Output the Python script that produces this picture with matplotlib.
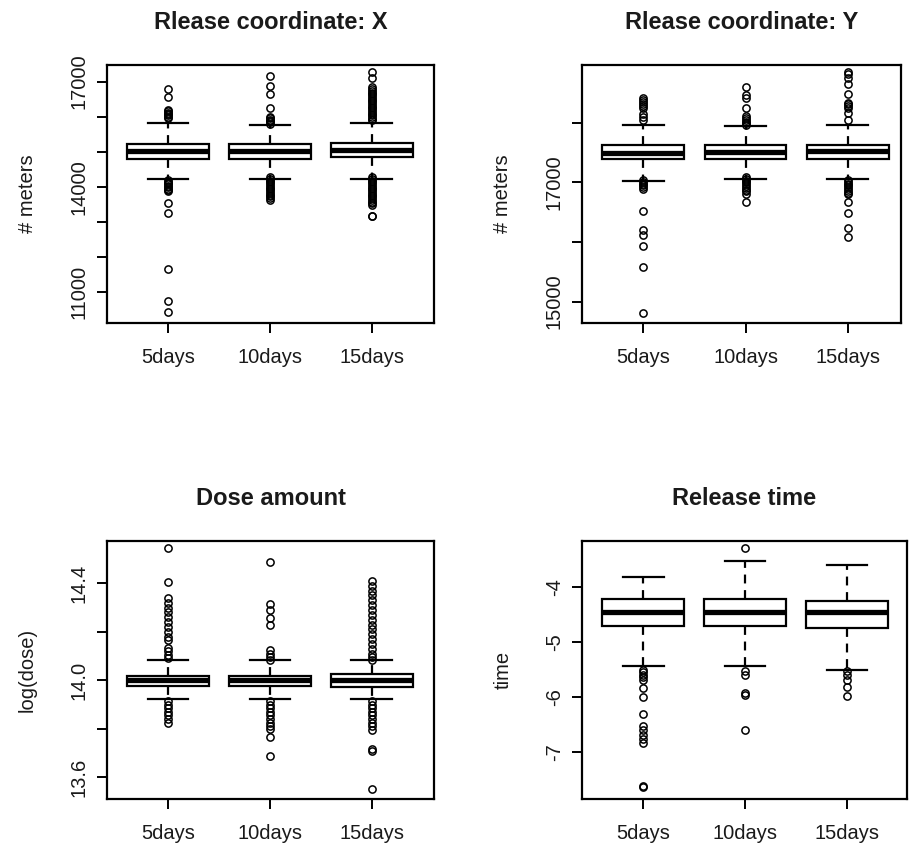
import numpy as np
import matplotlib
matplotlib.use("Agg")
import matplotlib.pyplot as plt

plt.rcParams['font.family'] = ['Liberation Sans', 'DejaVu Sans']

days = ["5days", "10days", "15days"]

### Rlease coordinate: X  (meters)
x_whislo = [14233, 14233, 14233]
x_q1 = [14786, 14786, 14843]
x_med = [15031, 15031, 15050]
x_q3 = [15214, 15214, 15260]
x_whishi = [15822, 15756, 15822]
x_fliers = [
    [16783, 16560, 16190, 16150, 16110, 16080, 16040, 16000, 15960,
     14190, 14150, 14110, 14070, 14030, 13990, 13950, 13910, 13870,
     13530, 13245, 11665, 10752, 10420],
    [17163, 16877, 16640, 16240, 16000, 15960, 15920, 15880, 15840, 15800,
     14280, 14230, 14180, 14130, 14080, 14030, 13980, 13930, 13880, 13830,
     13780, 13730, 13680, 13630],
    [17285, 17097, 16840, 16790, 16740, 16690, 16640, 16590, 16540, 16490,
     16440, 16390, 16340, 16290, 16240, 16190, 16140, 16090, 16040, 15990,
     15940, 15900,
     14280, 14230, 14180, 14130, 14080, 14030, 13980, 13930, 13880, 13830,
     13780, 13730, 13680, 13630, 13580, 13530, 13490, 13180, 13168],
]

### Rlease coordinate: Y  (meters)
y_whislo = [17029, 17063, 17063]
y_q1 = [17395, 17395, 17395]
y_med = [17497, 17505, 17535]
y_q3 = [17632, 17632, 17632]
y_whishi = [17969, 17941, 17969]
y_fliers = [
    [18414, 18380, 18350, 18320, 18290, 18257, 18143, 18090, 18050,
     17040, 17010, 16980, 16950, 16920, 16890, 16522, 16201, 16112, 15936,
     15581, 14811],
    [18594, 18470, 18420, 18245, 18115, 18080, 18050, 18020, 17990, 17960,
     17090, 17060, 17030, 17000, 16970, 16940, 16910, 16880, 16850, 16810,
     16679],
    [18858, 18820, 18757, 18650, 18481, 18341, 18310, 18280, 18257, 18172,
     18047,
     17040, 17010, 16980, 16950, 16920, 16890, 16860, 16830, 16800, 16679,
     16483, 16240, 16078],
]

### Dose amount  log(dose)
d_whislo = [13.921, 13.921, 13.921]
d_q1 = [13.975, 13.975, 13.972]
d_med = [14.002, 14.002, 14.0]
d_q3 = [14.016, 14.016, 14.025]
d_whishi = [14.082, 14.082, 14.082]
d_fliers = [
    [14.546, 14.406, 14.34, 14.32, 14.30, 14.28, 14.26, 14.24, 14.22, 14.20,
     14.18, 14.165, 14.135, 14.12, 14.105, 14.09,
     13.915, 13.90, 13.885, 13.87, 13.855, 13.84, 13.825],
    [14.488, 14.316, 14.289, 14.257, 14.227, 14.125, 14.11, 14.095, 14.085,
     13.915, 13.90, 13.885, 13.87, 13.855, 13.84, 13.825, 13.81, 13.80,
     13.766, 13.686],
    [14.41, 14.39, 14.37, 14.35, 14.33, 14.31, 14.29, 14.27, 14.25, 14.23,
     14.21, 14.19, 14.17, 14.15, 14.13, 14.11, 14.095, 14.085,
     13.915, 13.90, 13.885, 13.87, 13.855, 13.84, 13.825, 13.81, 13.795,
     13.715, 13.71, 13.553],
]

### Release time
t_whislo = [-5.442, -5.442, -5.515]
t_q1 = [-4.715, -4.715, -4.758]
t_med = [-4.467, -4.467, -4.467]
t_q3 = [-4.224, -4.224, -4.261]
t_whishi = [-3.818, -3.533, -3.612]
t_fliers = [
    [-5.515, -5.56, -5.60, -5.65, -5.697, -5.848, -6.0, -6.321, -6.533,
     -6.606, -6.697, -6.77, -6.848, -7.636, -7.63],
    [-3.303, -5.533, -5.612, -5.94, -5.97, -6.606],
    [-5.533, -5.60, -5.70, -5.818, -5.982],
]


def make_stats(lo, q1, med, q3, hi, fl):
    st = []
    for i in range(len(days)):
        st.append(dict(whislo=lo[i], q1=q1[i], med=med[i], q3=q3[i],
                       whishi=hi[i], fliers=fl[i], label=days[i]))
    return st


def draw_panel(ax, stats, title, ylab, yticks, ylabels, ylim, xlim):
    ax.bxp(stats, positions=[1, 2, 3], widths=0.8, capwidths=0.4,
           patch_artist=True, showfliers=True,
           boxprops=dict(facecolor='white', edgecolor='black', linewidth=1.6),
           medianprops=dict(color='black', linewidth=3.8, solid_capstyle='butt'),
           whiskerprops=dict(color='black', linewidth=1.6, linestyle=(0, (4, 3))),
           capprops=dict(color='black', linewidth=1.6),
           flierprops=dict(marker='o', markerfacecolor='none',
                           markeredgecolor='black', markersize=5.2,
                           markeredgewidth=1.1))
    ax.set_xlim(*xlim)
    ax.set_ylim(*ylim)
    ax.set_yticks(yticks)
    ax.set_yticklabels(ylabels)
    ax.set_title(title, fontsize=17, fontweight='bold', pad=26,
                 color='#1a1a1a')
    ax.set_ylabel(ylab, fontsize=14.5, color='#1a1a1a')
    ax.tick_params(axis='both', direction='out', length=7, width=1.4,
                   labelsize=14.5, labelcolor='#1a1a1a', top=False, right=False)
    ax.tick_params(axis='x', pad=11)
    ax.tick_params(axis='y', pad=6, labelrotation=90)
    for lab in ax.get_yticklabels():
        lab.set_va('center')
    for sp in ax.spines.values():
        sp.set_linewidth(1.6)


fig = plt.figure(figsize=(9.09, 8.46), dpi=100)

ax1 = fig.add_axes([107/909, 1-323/846, 327/909, 258/846])
ax2 = fig.add_axes([582/909, 1-323/846, 319/909, 258/846])
ax3 = fig.add_axes([107/909, 1-799.3/846, 327/909, 258.6/846])
ax4 = fig.add_axes([582/909, 1-799.3/846, 325/909, 258.6/846])

draw_panel(ax1, make_stats(x_whislo, x_q1, x_med, x_q3, x_whishi, x_fliers),
           "Rlease coordinate: X", "# meters",
           [11000, 12000, 13000, 14000, 15000, 16000, 17000],
           ["11000", "", "", "14000", "", "", "17000"],
           (10116, 17476), (0.40, 3.61))
draw_panel(ax2, make_stats(y_whislo, y_q1, y_med, y_q3, y_whishi, y_fliers),
           "Rlease coordinate: Y", "# meters",
           [15000, 16000, 17000, 18000],
           ["15000", "", "17000", ""],
           (14640, 18971), (0.40, 3.52))
draw_panel(ax3, make_stats(d_whislo, d_q1, d_med, d_q3, d_whishi, d_fliers),
           "Dose amount", "log(dose)",
           [13.6, 13.8, 14.0, 14.2, 14.4],
           ["13.6", "", "14.0", "", "14.4"],
           (13.509, 14.576), (0.40, 3.61))
draw_panel(ax4, make_stats(t_whislo, t_q1, t_med, t_q3, t_whishi, t_fliers),
           "Release time", "time",
           [-7, -6, -5, -4],
           ["-7", "-6", "-5", "-4"],
           (-7.867, -3.164), (0.40, 3.59))

ax1.yaxis.set_label_coords(-0.215, 0.5)
ax2.yaxis.set_label_coords(-0.218, 0.5)
ax3.yaxis.set_label_coords(-0.215, 0.5)
ax4.yaxis.set_label_coords(-0.213, 0.5)

plt.savefig("out.png", dpi=100)
